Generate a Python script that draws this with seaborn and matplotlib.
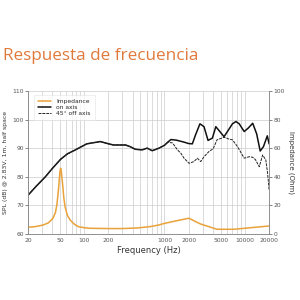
import pandas as pd
import matplotlib
matplotlib.use("Agg")
import matplotlib.pyplot as plt
import matplotlib.ticker as mticker
from matplotlib.lines import Line2D
import seaborn as sns

on_freq = [20, 25, 33, 40, 51, 62, 78, 108, 159, 202, 232, 328, 375, 434, 527,
           608, 704, 855, 1000, 1100, 1200, 1400, 1750, 2000, 2220, 2430, 2760,
           3100, 3480, 3940, 4350, 4880, 5500, 6300, 7000, 7740, 8500, 9800,
           11000, 12500, 14000, 15500, 17000, 19000, 20000]
on_spl = [73.5, 76.5, 80, 82.8, 86.1, 88, 89.4, 91.5, 92.3, 91.5, 91.1, 91.1,
          90.5, 89.6, 89.4, 90, 89.1, 90, 91, 92.1, 93, 92.8, 92.1, 91.6, 91.5,
          94.6, 98.5, 97.5, 92.7, 93.5, 97.5, 95.8, 94, 96.5, 98.5, 99.3, 98.5,
          95.8, 97, 98.7, 95, 89, 90.5, 94.3, 91.5]

off_freq = [20, 25, 33, 40, 51, 62, 78, 108, 159, 202, 232, 328, 375, 434, 527,
            608, 704, 855, 1000, 1100, 1260, 1450, 1600, 1750, 2020, 2320, 2560,
            2820, 3100, 3570, 4030, 4500, 5500, 6300, 7000, 8100, 9800, 11300,
            12500, 13500, 15100, 16600, 18200, 19000, 19500, 20000]
off_spl = [73.5, 76.5, 80, 82.8, 86.1, 88, 89.4, 91.5, 92.3, 91.5, 91.1, 91.1,
           90.5, 89.6, 89.4, 90, 89.1, 90, 91, 92.1, 91.8, 89.4, 88.2, 86.5,
           84.7, 85.3, 86.5, 85.3, 87, 88.8, 89.8, 92.9, 93.8, 93.2, 92.9, 90.5,
           86.5, 87, 86.8, 86, 83.5, 87.6, 85.9, 82, 79, 75.4]

imp_freq = [20, 25, 31, 36, 41, 44, 46, 48, 50, 51, 52, 54, 56, 58, 62, 67, 75,
            85, 100, 117, 200, 300, 456, 670, 850, 980, 1430, 2010, 2800, 4500,
            7300, 11800, 20000]
imp_ohm = [4.7, 5.2, 6.3, 7.8, 11, 15, 21, 31, 43, 46, 44, 35, 25, 19, 13, 9.8,
           7, 5.1, 4.4, 4.0, 3.8, 3.8, 4.2, 5.2, 6.3, 7.3, 9.3, 11, 7, 3.3, 3.3,
           4.4, 5.6]

x_ticks = [20, 50, 100, 200, 1000, 2000, 5000, 10000, 20000]

on_df = pd.DataFrame({'f': on_freq, 'spl': on_spl})
off_df = pd.DataFrame({'f': off_freq, 'spl': off_spl})
imp_df = pd.DataFrame({'f': imp_freq, 'ohm': imp_ohm})

sns.set_style("white")
plt.rcParams['font.family'] = ['DejaVu Sans']

fig = plt.figure(figsize=(3, 3), dpi=100)
ax = fig.add_axes([0.093, 0.22, 0.804, 0.477])
ax2 = ax.twinx()

orange = '#E9A23B'
tick_col = '#555555'

sns.lineplot(data=on_df, x='f', y='spl', ax=ax, color='#111111', lw=1.1, sort=False)
sns.lineplot(data=off_df, x='f', y='spl', ax=ax, color='#222222', lw=0.7,
             linestyle=(0, (3, 1)), sort=False)
sns.lineplot(data=imp_df, x='f', y='ohm', ax=ax2, color=orange, lw=1.1, sort=False)

ax.set_xscale('log')
ax.set_xlim(20, 20000)
ax.set_ylim(60, 110)
ax2.set_ylim(0, 100)
ax.set_xticks(x_ticks)
ax.xaxis.set_major_formatter(mticker.FixedFormatter([str(t) for t in x_ticks]))
ax.xaxis.set_minor_locator(mticker.LogLocator(base=10, subs=range(1, 10)))
ax.xaxis.set_minor_formatter(mticker.NullFormatter())
ax.set_yticks(range(60, 111, 10))
ax2.set_yticks(range(0, 101, 20))

ax.grid(True, which='both', axis='x', color='#cccccc', lw=0.5)
ax.grid(True, which='major', axis='y', color='#cccccc', lw=0.5)
ax2.grid(False)

for a in (ax, ax2):
    a.tick_params(axis='both', which='major', labelsize=4.3, colors=tick_col,
                  length=2, width=0.5, pad=1)
    a.tick_params(axis='x', which='minor', length=1.5, width=0.4, colors=tick_col)
    for s in a.spines.values():
        s.set_color('#888888')
        s.set_linewidth(0.5)
ax.spines['top'].set_visible(False)
ax2.spines['top'].set_visible(False)

ax.set_xlabel('Frequency (Hz)', fontsize=6, color='#333333', labelpad=2)
ax.set_ylabel('SPL (dB) @ 2.83V, 1m, half space', fontsize=4.4, color='#333333', labelpad=3)
ax2.set_ylabel('Impedance (Ohm)', fontsize=5, color='#333333', rotation=270, labelpad=7)

handles = [Line2D([], [], color=orange, lw=1.1),
           Line2D([], [], color='#111111', lw=1.1),
           Line2D([], [], color='#222222', lw=0.7, linestyle=(0, (3, 1)))]
leg = ax2.legend(handles, ['Impedance', 'on axis', '45° off axis'], loc='upper left',
                 fontsize=4.3, frameon=True, handlelength=2.2, borderpad=0.4,
                 labelspacing=0.1, bbox_to_anchor=(0.02, 0.98))
leg.get_frame().set_edgecolor('#dddddd')
leg.get_frame().set_linewidth(0.4)
leg.get_frame().set_boxstyle('square')

fig.text(0.01, 0.8, 'Respuesta de frecuencia', fontsize=12.3, color='#E07A3C',
         family=['Open Sans', 'DejaVu Sans'], ha='left', va='baseline')

fig.savefig('out.png', dpi=100, facecolor='white')
